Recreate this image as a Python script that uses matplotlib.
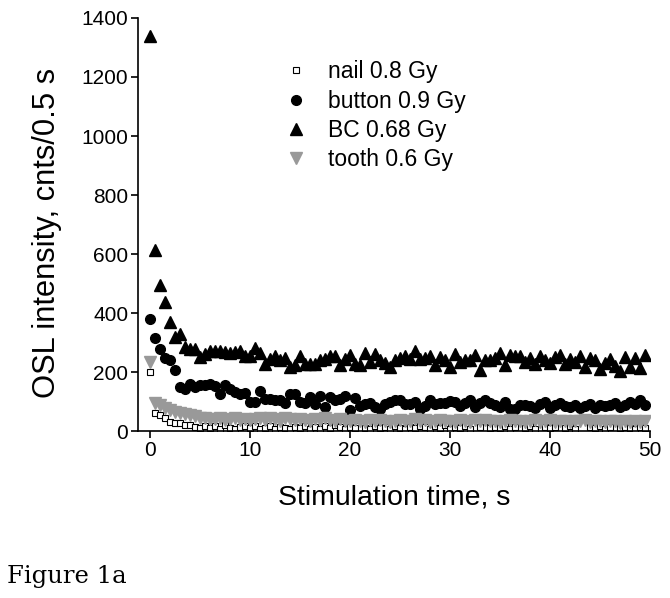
import numpy as np
import matplotlib
matplotlib.use("Agg")
import matplotlib.pyplot as plt

plt.rcParams["font.family"] = ["Liberation Sans", "DejaVu Sans"]

# OSL decay curves, one reading every 0.5 s
step = 0.5

nail = [200, 62, 54, 44, 31, 27, 27, 20, 22, 14,
        12, 18, 10, 16, 8, 20, 12, 9, 14, 18,
        10, 16, 6, 12, 18, 9, 14, 11, 7, 15,
        12, 18, 9, 14, 8, 16, 11, 20, 13, 7,
        15, 10, 39, 12, 8, 16, 11, 14, 9, 18,
        12, 7, 15, 10, 18, 13, 8, 16, 11, 20,
        9, 14, 12, 17, 8, 48, 13, 36, 10, 15,
        12, 18, 9, 14, 40, 11, 16, 8, 42, 13,
        10, 15, 38, 12, 17, 9, 44, 40, 14, 11,
        16, 8, 13, 36, 10, 15, 12, 9, 14, 11]

button = [380, 316, 279, 247, 240, 206, 150, 144, 161, 150,
          157, 157, 161, 152, 125, 155, 144, 133, 125, 130,
          99, 99, 136, 110, 108, 107, 105, 96, 125, 127,
          99, 96, 116, 93, 118, 82, 116, 105, 110, 118,
          73, 112, 84, 93, 96, 82, 76, 93, 99, 105,
          105, 93, 93, 99, 76, 84, 105, 93, 96, 96,
          101, 99, 84, 96, 105, 82, 96, 105, 96, 88,
          82, 99, 76, 76, 88, 88, 85, 80, 92, 100,
          78, 88, 95, 85, 82, 90, 78, 86, 92, 80,
          88, 84, 90, 95, 82, 88, 100, 92, 105, 90]

bc = [1340, 613, 496, 436, 369, 318, 330, 285, 279, 279,
      251, 262, 270, 273, 271, 268, 264, 268, 271, 253,
      253, 281, 264, 228, 245, 256, 240, 247, 217, 223,
      256, 228, 228, 228, 240, 245, 253, 256, 225, 245,
      259, 228, 225, 264, 234, 262, 240, 231, 219, 240,
      247, 253, 245, 273, 245, 247, 253, 223, 251, 242,
      217, 262, 234, 242, 240, 259, 208, 240, 242, 247,
      264, 223, 259, 253, 253, 234, 248, 226, 255, 240,
      232, 250, 258, 226, 244, 236, 254, 218, 248, 240,
      212, 230, 244, 222, 205, 252, 218, 248, 214, 258]

tooth = [235, 96, 88, 80, 71, 65, 62, 58, 55, 50,
         46, 44, 42, 40, 43, 38, 41, 44, 39, 42,
         37, 40, 43, 38, 45, 41, 36, 44, 40, 38,
         42, 39, 35, 41, 37, 43, 38, 34, 40, 36,
         33, 38, 35, 31, 37, 34, 39, 36, 32, 35,
         38, 33, 36, 40, 34, 37, 31, 35, 38, 33,
         36, 32, 38, 35, 30, 37, 34, 39, 33, 36,
         31, 35, 38, 33, 36, 30, 34, 37, 32, 35,
         38, 31, 34, 36, 30, 35, 33, 37, 31, 34,
         36, 30, 33, 35, 29, 34, 32, 36, 30, 33]

labels = ["nail 0.8 Gy", "button 0.9 Gy", "BC 0.68 Gy", "tooth 0.6 Gy"]

t = np.arange(len(bc)) * step

fig = plt.figure(figsize=(6.7, 5.98), dpi=100)
ax = fig.add_axes([0.206, 0.279, 0.764, 0.691])

ax.plot(t, nail, ls="none", marker="s", ms=5, mfc="white", mec="black",
        mew=0.8, label=labels[0])
ax.plot(t, button, ls="none", marker="o", ms=7, color="black", label=labels[1])
ax.plot(t, bc, ls="none", marker="^", ms=8, color="black", label=labels[2])
ax.plot(t, tooth, ls="none", marker="v", ms=8, color="#999999", label=labels[3])

ax.set_xlim(-1.15, 50)
ax.set_ylim(0, 1400)
ax.set_xticks(np.arange(0, 51, 10))
ax.set_yticks(np.arange(0, 1401, 200))
for side in ("top", "right"):
    ax.spines[side].set_visible(False)
for side in ("left", "bottom"):
    ax.spines[side].set_linewidth(1.2)
ax.tick_params(direction="out", length=5, width=1.2, labelsize=15, pad=2)

ax.set_xlabel("Stimulation time, s", fontsize=20.5, labelpad=18)
ax.set_ylabel("OSL intensity, cnts/0.5 s", fontsize=22.2)
ax.yaxis.set_label_coords(-0.148, 0.48)

ax.legend(loc="upper left", bbox_to_anchor=(0.254, 0.936), frameon=False,
          fontsize=16.5, handlelength=1.0, handletextpad=0.9,
          labelspacing=0.27, borderpad=0.2)

fig.text(0.01, 0.025, "Figure 1a", fontsize=17.5, family="DejaVu Serif")

plt.savefig("out.png", dpi=100)
